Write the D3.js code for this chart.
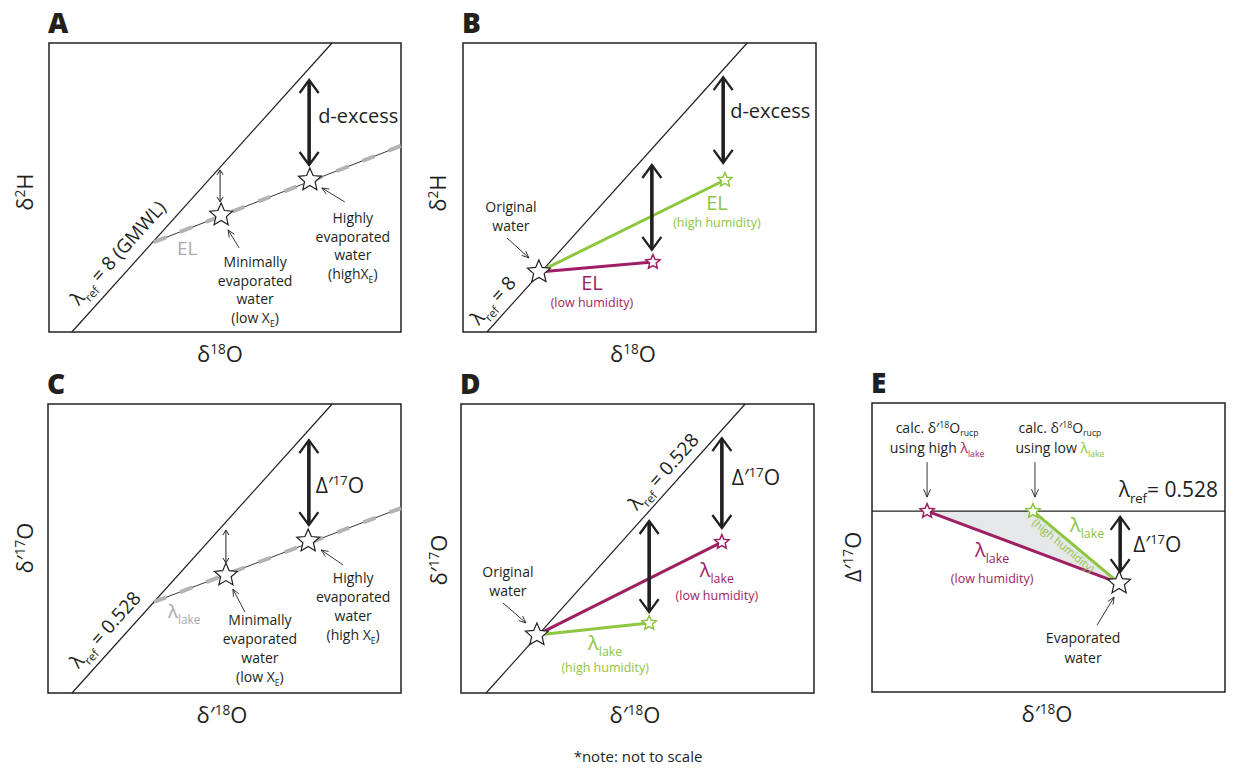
<!DOCTYPE html>
<html><head><meta charset="utf-8">
<script src="https://cdn.jsdelivr.net/npm/d3@7"></script>
<style>body{margin:0;background:#fff} text{font-family:"Open Sans",sans-serif}</style>
</head><body><svg id="fig" width="1233" height="768"></svg>
<script>
// Schematic values: every panel uses 0–100 units on both axes.
const panelLetters = ["A", "B", "C", "D", "E"];

// Panel A – δ2H vs δ18O with the evaporation line
const gmwlA = [[6.5, 0], [80.4, 100]];
const elA = [[29.8, 31.1], [100, 64.4]];
const watersA = [[48.9, 40.5], [74.1, 52.6]];              // minimally, highly evaporated
const dexcessA = [[48.6, 56.1, 45.0], [73.9, 87.2, 57.8]];  // x, top, bottom

// Panel B – humidity control on the evaporation line
const gmwlB = [[6.8, 0], [80.5, 100]];
const originalB = [21.5, 20.8];
const highHumidityB = [74.2, 52.6];
const lowHumidityB = [53.8, 24.2];
const dexcessB = [[53.5, 57.8, 28.4], [73.7, 88.2, 58.5]];

// Panel C – δ'17O vs δ'18O
const refC = [[6.8, 0], [80.5, 100]];
const lakeC = [[30.0, 31.5], [100, 64.0]];
const watersC = [[50.4, 40.8], [73.7, 52.6]];
const cap17C = [[50.4, 56.4, 45.0], [73.9, 87.5, 58.1]];

// Panel D
const refD = [[7.1, 0], [80.5, 100]];
const originalD = [21.5, 20.1];
const lowHumidityD = [73.9, 52.2];
const highHumidityD = [53.3, 24.2];
const cap17D = [[53.3, 59.5, 28.0], [73.9, 88.2, 57.1]];

// Panel E – Δ'17O vs δ'18O, back-projection to the reference line
const refE = 62.6;
const rucpHighLambdaE = [15.6, 62.6];
const rucpLowLambdaE = [45.6, 62.6];
const evaporatedE = [70.0, 37.7];
const cap17E = [70.3, 60.6, 41.5];

const noteText = "*note: not to scale";

// ---------------------------------------------------------------
const INK = "#231f20", GREEN = "#8dc63f", PURPLE = "#9e1f63", GREY = "#b3b3b3", TRI = "#e6e7e8", GREYTXT = "#a7a9ac";
const svg = d3.select("#fig");
const boxes = {A: [49, 43, 401, 332], B: [463, 43, 816, 332], C: [48, 404, 401, 693], D: [461, 404, 814, 693], E: [872, 403, 1225, 692]};

function panel(letter) {
  const [x0, y0, x1, y1] = boxes[letter];
  const g = svg.append("g");
  const x = d3.scaleLinear().domain([0, 100]).range([x0, x1]);
  const y = d3.scaleLinear().domain([0, 100]).range([y1, y0]);
  g.append("rect").attr("x", x0).attr("y", y0).attr("width", x1 - x0).attr("height", y1 - y0)
    .attr("fill", "none").attr("stroke", INK).attr("stroke-width", 1.5);
  g.append("text").attr("x", x0 - 1).attr("y", y0 - 10).attr("font-size", 28).attr("font-weight", 800)
    .attr("fill", INK).text(letter);
  return {g, x, y, x0, y0, x1, y1};
}

const star5 = {
  draw(ctx, size) {
    const R = Math.sqrt(size), r = R * 0.46;
    for (let i = 0; i < 10; i++) {
      const a = -Math.PI / 2 + i * Math.PI / 5, rr = i % 2 ? r : R;
      const px = rr * Math.cos(a), py = rr * Math.sin(a);
      i ? ctx.lineTo(px, py) : ctx.moveTo(px, py);
    }
    ctx.closePath();
  }
};
function star(g, cx, cy, R, color, sw) {
  g.append("path").attr("d", d3.symbol(star5, R * R)()).attr("transform", `translate(${cx},${cy})`)
    .attr("fill", "#fff").attr("stroke", color).attr("stroke-width", sw);
}
function seg(g, p, q, color, w) {
  return g.append("line").attr("x1", p[0]).attr("y1", p[1]).attr("x2", q[0]).attr("y2", q[1])
    .attr("stroke", color).attr("stroke-width", w);
}
function dbl(g, x, yTop, yBot, heavy) {
  const hw = heavy ? 9.5 : 3, hl = heavy ? 13 : 5, sw = heavy ? 3.6 : 1, hsw = heavy ? 2.3 : 1;
  g.append("line").attr("x1", x).attr("x2", x).attr("y1", yTop + 1).attr("y2", yBot - 1)
    .attr("stroke", INK).attr("stroke-width", sw);
  g.append("path").attr("d", `M${x - hw},${yTop + hl}L${x},${yTop}L${x + hw},${yTop + hl}M${x - hw},${yBot - hl}L${x},${yBot}L${x + hw},${yBot - hl}`)
    .attr("fill", "none").attr("stroke", INK).attr("stroke-width", hsw);
}
function pointer(g, x1, y1, x2, y2, hw = 3, hl = 7) {
  const a = Math.atan2(y2 - y1, x2 - x1), c = Math.cos(a), s = Math.sin(a);
  const bx = x2 - hl * c, by = y2 - hl * s;
  g.append("path").attr("d", `M${x1},${y1}L${x2},${y2}M${bx - hw * s},${by + hw * c}L${x2},${y2}L${bx + hw * s},${by - hw * c}`)
    .attr("fill", "none").attr("stroke", INK).attr("stroke-width", 0.9);
}
function rich(g, x, y, parts, o = {}) {
  const size = o.size || 14, subDrop = o.subDrop || 0.3;
  const t = g.append("text").attr("x", x).attr("y", y).attr("font-size", size)
    .attr("fill", o.fill || INK).attr("text-anchor", o.anchor || "start");
  if (o.rotate) t.attr("transform", `rotate(${o.rotate},${x},${y})`);
  let shift = 0;
  parts.forEach(p => {
    const [txt, kind, col] = typeof p === "string" ? [p, "n"] : p;
    const target = kind === "sub" ? size * subDrop : kind === "sup" ? -size * 0.38 : 0;
    const s = t.append("tspan").text(txt).attr("dy", target - shift);
    if (kind !== "n") s.attr("font-size", size * 0.62);
    if (col) s.attr("fill", col);
    shift = target;
  });
  return t;
}
function lines(g, cx, y0, step, rows, size) {
  rows.forEach((r, i) => rich(g, cx, y0 + i * step, typeof r === "string" ? [r] : r, {size, anchor: "middle"}));
}
// text placed along a line p0→p1: s = distance along, off = baseline offset to the left side
function alongLine(g, p0, p1, s, off, parts, o) {
  const dx = p1[0] - p0[0], dy = p1[1] - p0[1], L = Math.hypot(dx, dy), ux = dx / L, uy = dy / L;
  const nx = uy, ny = -ux;
  const px = p0[0] + s * ux + off * nx, py = p0[1] + s * uy + off * ny;
  return rich(g, px, py, parts, Object.assign({rotate: Math.atan2(uy, ux) * 180 / Math.PI}, o));
}
function yLabel(g, x, cy, parts) {
  rich(g, x, cy, parts, {size: 22, anchor: "middle", rotate: -90});
}
const pt = (P, d) => [P.x(d[0]), P.y(d[1])];
const DELTA17 = ["δ′", ["17", "sup"], "O"];
const DELTA18 = ["δ′", ["18", "sup"], "O"];

// ---------------- Panel A ----------------
{
  const P = panel("A"), g = P.g;
  const r0 = pt(P, gmwlA[0]), r1 = pt(P, gmwlA[1]);
  seg(g, r0, r1, INK, 1.2);
  const e0 = pt(P, elA[0]), e1 = pt(P, elA[1]);
  seg(g, e0, e1, INK, 0.9);
  seg(g, e0, e1, GREY, 4).attr("stroke-dasharray", "13,15");
  dexcessA.forEach((d, i) => dbl(g, P.x(d[0]), P.y(d[1]), P.y(d[2]), i === 1));
  const [s1, s2] = watersA.map(d => pt(P, d));
  star(g, s1[0], s1[1], 12, INK, 1.2);
  star(g, s2[0], s2[1], 12, INK, 1.2);
  pointer(g, s1[0] + 18, s1[1] + 33, s1[0] + 7, s1[1] + 15);
  pointer(g, s2[0] + 35, s2[1] + 22, s2[0] + 12, s2[1] + 8);
  lines(g, s1[0] + 34, s1[1] + 52, 18.7, ["Minimally", "evaporated", "water", ["(low X", ["E", "sub"], ")"]], 14);
  lines(g, s2[0] + 43, s2[1] + 43, 18.7, ["Highly", "evaporated", "water", ["(highX", ["E", "sub"], ")"]], 14);
  const big = dexcessA[1];
  rich(g, P.x(big[0]) + 9, (P.y(big[1]) + P.y(big[2])) / 2 + 1, ["d-excess"], {size: 20});
  rich(g, e0[0] + 23, e0[1] + 13, ["EL"], {size: 19, fill: GREYTXT});
  alongLine(g, r0, r1, 24, 12, ["λ", ["ref", "sub"], " = 8  (GMWL)"], {size: 19});
  yLabel(g, 33, 192, ["δ", ["2", "sup"], "H"]);
  rich(g, 220, 362, ["δ", ["18", "sup"], "O"], {size: 22, anchor: "middle"});
}

// ---------------- Panel B ----------------
{
  const P = panel("B"), g = P.g;
  const r0 = pt(P, gmwlB[0]), r1 = pt(P, gmwlB[1]);
  seg(g, r0, r1, INK, 1.2);
  const o = pt(P, originalB), hh = pt(P, highHumidityB), lh = pt(P, lowHumidityB);
  seg(g, o, hh, GREEN, 3);
  seg(g, o, lh, PURPLE, 3);
  dexcessB.forEach(d => dbl(g, P.x(d[0]), P.y(d[1]), P.y(d[2]), true));
  star(g, o[0], o[1], 12, INK, 1.2);
  star(g, hh[0], hh[1], 7.5, GREEN, 1.5);
  star(g, lh[0], lh[1], 7.5, PURPLE, 1.5);
  lines(g, o[0] - 28, o[1] - 60, 19, ["Original", "water"], 14);
  pointer(g, o[0] - 32, o[1] - 34, o[0] - 10, o[1] - 14);
  const big = dexcessB[1];
  rich(g, P.x(big[0]) + 7, (P.y(big[1]) + P.y(big[2])) / 2 - 2, ["d-excess"], {size: 20});
  rich(g, hh[0] - 8, hh[1] + 30, ["EL"], {size: 20, fill: GREEN, anchor: "middle"});
  rich(g, hh[0] - 8, hh[1] + 47, ["(high humidity)"], {size: 12.5, fill: GREEN, anchor: "middle"});
  rich(g, lh[0] - 61, lh[1] + 28, ["EL"], {size: 20, fill: PURPLE, anchor: "middle"});
  rich(g, lh[0] - 61, lh[1] + 45, ["(low humidity)"], {size: 12.5, fill: PURPLE, anchor: "middle"});
  alongLine(g, r0, r1, -1, 10, ["λ", ["ref", "sub"], " = 8"], {size: 19});
  yLabel(g, 446, 193, ["δ", ["2", "sup"], "H"]);
  rich(g, 633, 362, ["δ", ["18", "sup"], "O"], {size: 22, anchor: "middle"});
}

// ---------------- Panel C ----------------
{
  const P = panel("C"), g = P.g;
  const r0 = pt(P, refC[0]), r1 = pt(P, refC[1]);
  seg(g, r0, r1, INK, 1.2);
  const e0 = pt(P, lakeC[0]), e1 = pt(P, lakeC[1]);
  seg(g, e0, e1, INK, 0.9);
  seg(g, e0, e1, GREY, 4).attr("stroke-dasharray", "13,15");
  cap17C.forEach((d, i) => dbl(g, P.x(d[0]), P.y(d[1]), P.y(d[2]), i === 1));
  const [s1, s2] = watersC.map(d => pt(P, d));
  star(g, s1[0], s1[1], 12, INK, 1.2);
  star(g, s2[0], s2[1], 12, INK, 1.2);
  pointer(g, s1[0] + 19, s1[1] + 37, s1[0] + 7, s1[1] + 14);
  pointer(g, s2[0] + 35, s2[1] + 24, s2[0] + 13, s2[1] + 9);
  lines(g, s1[0] + 34, s1[1] + 50, 19, ["Minimally", "evaporated", "water", ["(low X", ["E", "sub"], ")"]], 14);
  lines(g, s2[0] + 45, s2[1] + 42, 19, ["Highly", "evaporated", "water", ["(high X", ["E", "sub"], ")"]], 14);
  const big = cap17C[1];
  rich(g, P.x(big[0]) + 7, (P.y(big[1]) + P.y(big[2])) / 2 + 10, ["Δ′", ["17", "sup"], "O"], {size: 21});
  rich(g, e0[0] + 14, e0[1] + 16, ["λ", ["lake", "sub"]], {size: 19, fill: GREYTXT});
  alongLine(g, r0, r1, 22, 11, ["λ", ["ref", "sub"], " = 0.528"], {size: 19});
  yLabel(g, 33, 548, DELTA17);
  rich(g, 222, 723, DELTA18, {size: 22, anchor: "middle"});
}

// ---------------- Panel D ----------------
{
  const P = panel("D"), g = P.g;
  const r0 = pt(P, refD[0]), r1 = pt(P, refD[1]);
  seg(g, r0, r1, INK, 1.2);
  const o = pt(P, originalD), lh = pt(P, lowHumidityD), hh = pt(P, highHumidityD);
  seg(g, o, lh, PURPLE, 3);
  seg(g, o, hh, GREEN, 3);
  cap17D.forEach(d => dbl(g, P.x(d[0]), P.y(d[1]), P.y(d[2]), true));
  star(g, o[0], o[1], 12, INK, 1.2);
  star(g, lh[0], lh[1], 7.5, PURPLE, 1.5);
  star(g, hh[0], hh[1], 7.5, GREEN, 1.5);
  lines(g, o[0] - 29, o[1] - 58, 19, ["Original", "water"], 14);
  pointer(g, o[0] - 34, o[1] - 32, o[0] - 11, o[1] - 12);
  const big = cap17D[1];
  rich(g, P.x(big[0]) + 10, (P.y(big[1]) + P.y(big[2])) / 2 + 2, ["Δ′", ["17", "sup"], "O"], {size: 21});
  rich(g, lh[0] - 5, lh[1] + 35, ["λ", ["lake", "sub"]], {size: 20, fill: PURPLE, anchor: "middle"});
  rich(g, lh[0] - 5, lh[1] + 58, ["(low humidity)"], {size: 12.5, fill: PURPLE, anchor: "middle"});
  rich(g, hh[0] - 44, hh[1] + 27, ["λ", ["lake", "sub"]], {size: 20, fill: GREEN, anchor: "middle"});
  rich(g, hh[0] - 44, hh[1] + 49, ["(high humidity)"], {size: 12.5, fill: GREEN, anchor: "middle"});
  alongLine(g, r0, r1, 236, 9, ["λ", ["ref", "sub"], " = 0.528"], {size: 19});
  yLabel(g, 447, 560, DELTA17);
  rich(g, 635, 723, DELTA18, {size: 22, anchor: "middle"});
  rich(svg, 638, 762, [noteText], {size: 15, anchor: "middle"});
}

// ---------------- Panel E ----------------
{
  const P = panel("E"), g = P.g;
  const hi = pt(P, rucpHighLambdaE), lo = pt(P, rucpLowLambdaE), ev = pt(P, evaporatedE);
  g.append("path").attr("d", d3.line()([hi, lo, ev]) + "Z").attr("fill", TRI);
  seg(g, [P.x0, P.y(refE)], [P.x1, P.y(refE)], INK, 1.2);
  seg(g, hi, ev, PURPLE, 3);
  seg(g, lo, ev, GREEN, 3);
  dbl(g, P.x(cap17E[0]), P.y(cap17E[1]), P.y(cap17E[2]), true);
  star(g, hi[0], hi[1], 7.5, PURPLE, 1.5);
  star(g, lo[0], lo[1], 7.5, GREEN, 1.5);
  star(g, ev[0], ev[1], 12, INK, 1.2);
  // labels above the reference line
  rich(g, hi[0] + 10, hi[1] - 78, ["calc. δ′", ["18", "sup"], "O", ["rucp", "sub"]], {size: 14, anchor: "middle", subDrop: 0.2});
  rich(g, hi[0] + 10, hi[1] - 58, ["using high ", ["λ", "n", PURPLE], ["lake", "sub", PURPLE]], {size: 14, anchor: "middle"});
  rich(g, lo[0] + 27, lo[1] - 78, ["calc. δ′", ["18", "sup"], "O", ["rucp", "sub"]], {size: 14, anchor: "middle", subDrop: 0.2});
  rich(g, lo[0] + 27, lo[1] - 58, ["using low ", ["λ", "n", GREEN], ["lake", "sub", GREEN]], {size: 14, anchor: "middle"});
  pointer(g, hi[0], hi[1] - 49, hi[0], hi[1] - 14, 3.5, 8);
  pointer(g, lo[0] + 2, lo[1] - 49, lo[0] + 2, lo[1] - 14, 3.5, 8);
  rich(g, P.x1 - 7, P.y(refE) - 14, ["λ", ["ref", "sub"], "= 0.528"], {size: 21, anchor: "end"});
  rich(g, P.x(cap17E[0]) + 13, (P.y(cap17E[1]) + P.y(cap17E[2])) / 2 + 8, ["Δ′", ["17", "sup"], "O"], {size: 21});
  rich(g, lo[0] + 37, lo[1] + 21, ["λ", ["lake", "sub"]], {size: 20, fill: GREEN});
  alongLine(g, lo, ev, 7, -11, ["(high humidity)"], {size: 11, fill: GREEN});
  const mid = [(hi[0] + ev[0]) / 2, (hi[1] + ev[1]) / 2];
  rich(g, mid[0] - 31, mid[1] + 10, ["λ", ["lake", "sub"]], {size: 20, fill: PURPLE, anchor: "middle"});
  rich(g, mid[0] - 31, mid[1] + 36, ["(low humidity)"], {size: 12.5, fill: PURPLE, anchor: "middle"});
  lines(g, ev[0] - 36, ev[1] + 60, 20, ["Evaporated", "water"], 14);
  pointer(g, ev[0] - 22, ev[1] + 42, ev[0] - 5, ev[1] + 14);
  yLabel(g, 861, 557, ["Δ′", ["17", "sup"], "O"]);
  rich(g, 1047, 722, DELTA18, {size: 22, anchor: "middle"});
}
</script>
</body></html>
